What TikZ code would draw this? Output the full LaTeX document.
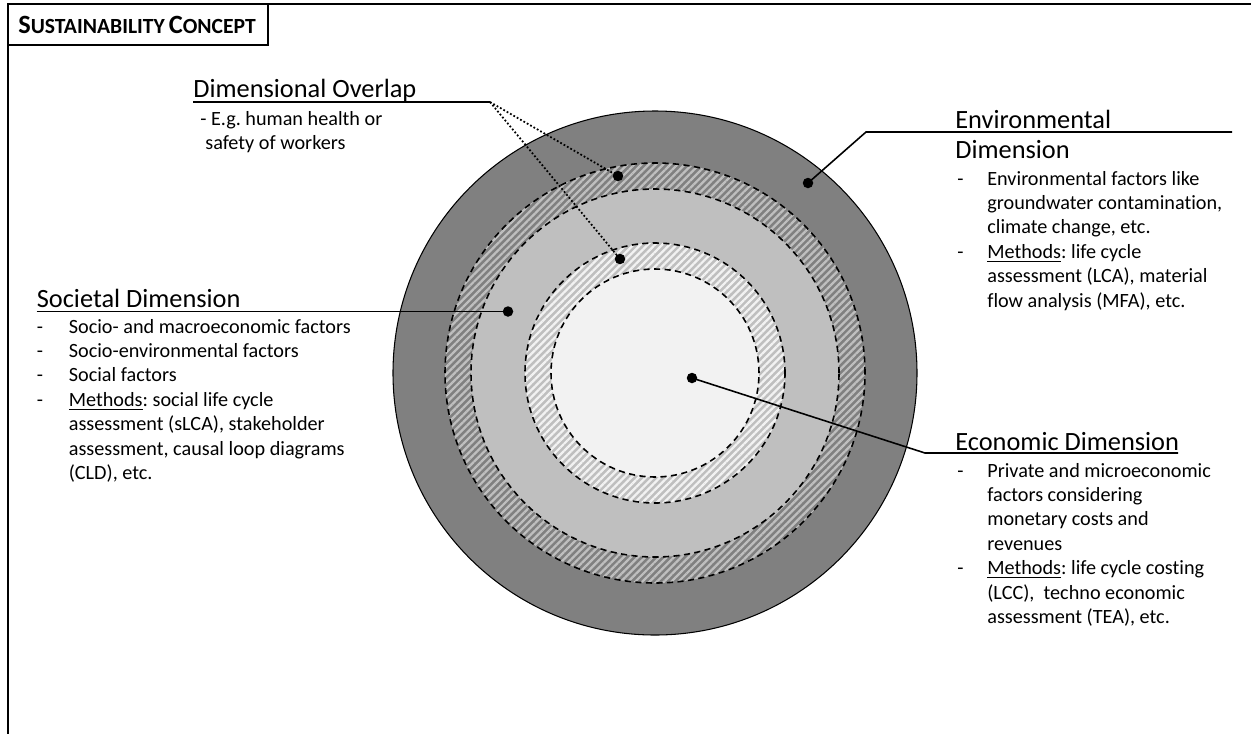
\documentclass[tikz,border=0pt]{standalone}
\usepackage{fontspec}
\setmainfont{Carlito}[Ligatures=NoCommon]
\usepackage{tikz}
\usetikzlibrary{patterns.meta}
\frenchspacing

\definecolor{ringdark}{gray}{0.5}
\definecolor{ringmid}{gray}{0.75}
\definecolor{ringlight}{gray}{0.95}

\newcommand{\sctitle}[2]{{\fontsize{15}{15}\selectfont #1}{\fontsize{12.3}{15}\selectfont #2}}

\tikzset{
    headtext/.style={anchor=base west, inner sep=0pt, font=\fontsize{15}{17.6}\selectfont},
    bodytext/.style={anchor=base west, inner sep=0pt, font=\fontsize{11.5}{13.9}\selectfont},
    dimdot/.style={circle, fill=black, inner sep=0pt, minimum size=0.21cm},
    leader/.style={line width=0.9pt},
    overlapleader/.style={line width=1pt, dash pattern=on 1pt off 1.2pt},
    ringborder/.style={line width=0.9pt, dash pattern=on 3.5pt off 2.5pt},
    hatch/.style={pattern={Lines[angle=45,distance=2.9pt,line width=1.3pt]}, pattern color=#1}
}

\begin{document}
\begin{tikzpicture}
    \useasboundingbox (0,0) rectangle (25.02,-14.68);

    % frame and title
    \draw[line width=0.8pt] (25.02,-0.08) -- (0.16,-0.08) -- (0.16,-14.68);
    \draw[line width=0.8pt] (0.16,-0.08) rectangle (5.36,-0.9);
    \node[anchor=base west, inner sep=0pt, font=\bfseries] (title) at (0.36,-0.67) {\sctitle{S}{USTAINABILITY} \sctitle{C}{ONCEPT}};

    % rings
    \coordinate (core) at (13.1,-7.46);
    \fill[ringdark] (core) circle (5.24);
    \draw[line width=0.6pt] (core) circle (5.24);
    \fill[hatch=ringmid] (core) circle (4.2);
    \fill[ringmid] (core) circle (3.68);
    \fill[hatch=ringlight] (core) circle (2.6);
    \fill[ringlight] (core) circle (2.08);
    \foreach \r in {4.2,3.68,2.6,2.08}
        \draw[ringborder] (core) circle (\r);

    % dots
    \node[dimdot] (overlap dot a) at (12.36,-3.52) {};
    \node[dimdot] (overlap dot b) at (12.4,-5.18) {};
    \node[dimdot] (env dot) at (16.16,-3.66) {};
    \node[dimdot] (soc dot) at (10.16,-6.23) {};
    \node[dimdot] (econ dot) at (13.84,-7.56) {};

    % dimensional overlap
    \node[headtext] (overlap head) at (3.86,-1.94) {Dimensional Overlap};
    \coordinate (overlap start) at (3.86,-2.04);
    \coordinate (overlap knee) at (9.8,-2.04);
    \draw[leader] (overlap start) -- (overlap knee);
    \draw[overlapleader] (overlap knee) -- (overlap dot a.center);
    \draw[overlapleader] (overlap knee) -- (overlap dot b.center);
    \node[bodytext] (overlap body) at (4.0,-2.5) {\begin{tabular}[t]{@{}l@{}}
        - E.g. human health or\\
        \hspace{0.1cm}safety of workers
    \end{tabular}};

    % societal dimension
    \node[headtext] (soc head) at (0.73,-6.14) {Societal Dimension};
    \coordinate (soc start) at (0.73,-6.23);
    \draw[leader] (soc start) -- (soc dot.center);
    \node[bodytext] (soc body) at (0.73,-6.66) {\begin{tabular}[t]{@{}p{0.64cm}@{}l@{}}
        - & Socio- and macroeconomic factors\\
        - & Socio-environmental factors\\
        - & Social factors\\
        - & \underline{Methods}: social life cycle\\
          & assessment (sLCA), stakeholder\\
          & assessment, causal loop diagrams\\
          & (CLD), etc.
    \end{tabular}};

    % environmental dimension
    \node[headtext] (env head) at (19.1,-2.56) {\begin{tabular}[t]{@{}l@{}}
        Environmental\\
        Dimension
    \end{tabular}};
    \coordinate (env end) at (24.64,-2.64);
    \coordinate (env knee) at (17.32,-2.64);
    \draw[leader] (env end) -- (env knee) -- (env dot.center);
    \node[bodytext] (env body) at (19.14,-3.7) {\begin{tabular}[t]{@{}p{0.6cm}@{}l@{}}
        - & Environmental factors like\\
          & groundwater contamination,\\
          & climate change, etc.\\
        - & \underline{Methods}: life cycle\\
          & assessment (LCA), material\\
          & flow analysis (MFA), etc.
    \end{tabular}};

    % economic dimension
    \node[headtext] (econ head) at (19.1,-9.0) {Economic Dimension};
    \coordinate (econ end) at (23.56,-9.06);
    \coordinate (econ knee) at (18.5,-9.06);
    \draw[leader] (econ end) -- (econ knee) -- (econ dot.center);
    \node[bodytext] (econ body) at (19.14,-9.54) {\begin{tabular}[t]{@{}p{0.6cm}@{}l@{}}
        - & Private and microeconomic\\
          & factors considering\\
          & monetary costs and\\
          & revenues\\
        - & \underline{Methods}: life cycle costing\\
          & (LCC),~ techno economic\\
          & assessment (TEA), etc.
    \end{tabular}};
\end{tikzpicture}
\end{document}
